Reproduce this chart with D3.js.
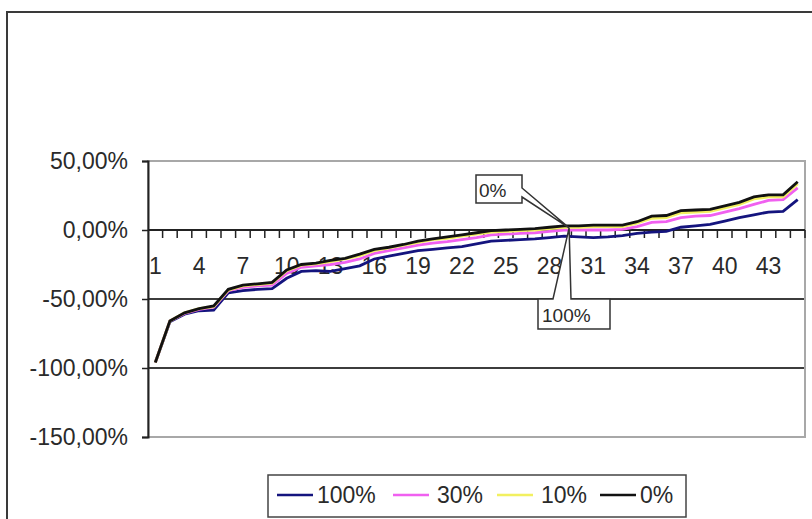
<!DOCTYPE html>
<html>
<head>
<meta charset="utf-8">
<script src="https://cdn.jsdelivr.net/npm/d3@7"></script>
<style>
  html, body { margin: 0; padding: 0; background: #fff; }
  svg { display: block; font-family: "Liberation Sans", Arial, sans-serif; }
</style>
</head>
<body>
<svg id="chart" width="812" height="519"></svg>
<script>
// Category positions 1..45
const categories = [1,2,3,4,5,6,7,8,9,10,11,12,13,14,15,16,17,18,19,20,21,22,23,24,25,
  26,27,28,29,30,31,32,33,34,35,36,37,38,39,40,41,42,43,44,45];

// Series values in percent
const s100 = [-96,-66.5,-61,-58.5,-58,-45.5,-44,-43,-42.5,-35,-30,-29.5,-30,-28,-26,-21,-19,-17,-15,-14,
  -13,-12,-10,-8,-7.5,-7,-6.5,-5.5,-4.5,-5,-5.5,-5,-4,-2.5,-1.5,-1,2,3,4,6.5,9,11,13,13.5,22];
const s30 = [-96,-66,-60.5,-57.5,-56,-44,-41.5,-40.5,-40,-31.5,-27,-26,-25,-23.5,-21,-17,-15,-13,-11,-9.5,
  -8.5,-7,-5.5,-3.5,-3,-2.5,-2,-1,0,0,0,0,0.5,2.5,5.5,6,9,10,10.5,13,15.5,18.5,21.5,22,30.5];
const s10 = [-96,-66,-60,-57,-55.5,-43.5,-40.5,-39.5,-38.5,-29.5,-25.5,-24.5,-23,-21,-18.5,-15,-13,-11,-9,-7,
  -6,-4.5,-3,-1.5,-1,-0.5,0,1,2,2,2.5,2.5,2.5,5,8.5,9,12.5,13,13.5,16,18.5,22.5,24,24,33.5];
const s0 = [-96,-66,-60,-57,-55,-43,-40,-39,-38,-29,-25,-24,-22,-20.5,-17.5,-14,-12.5,-10.5,-8,-6.5,
  -5,-3.5,-2,-0.5,0,0.5,1,2,3,3,3.5,3.5,3.5,6,10,10.5,14,14.5,15,17.5,20,24,25.5,25.5,35];

const seriesNames = ["100%", "30%", "10%", "0%"];
const seriesColors = ["#14147e", "#f060f0", "#f2f060", "#111111"];
const seriesData = [s100, s30, s10, s0];

const xTickLabels = ["1","4","7","10","13","16","19","22","25","28","31","34","37","40","43"];
const yTickValues = [50, 0, -50, -100, -150];
const yTickLabels = ["50,00%", "0,00%", "-50,00%", "-100,00%", "-150,00%"];

// Callout labels: text and the point they refer to (category, value)
const callouts = [
  { text: "0%", category: 29, value: 1.5 },
  { text: "100%", category: 29, value: 1.5 }
];

const svg = d3.select("#chart");
const W = 812, H = 519;
const plot = { left: 148, right: 805, top: 161, bottom: 437 };

const x = d3.scaleBand().domain(categories).range([plot.left, plot.right]).paddingInner(0).paddingOuter(0);
const y = d3.scaleLinear().domain([-150, 50]).range([plot.bottom, plot.top]);
const cx = c => x(c) + x.bandwidth() / 2;

// Outer chart frame
svg.append("rect")
  .attr("x", 7).attr("y", 12).attr("width", W + 20).attr("height", H + 20)
  .attr("fill", "#fff").attr("stroke", "#3a3a3a").attr("stroke-width", 2);

// Horizontal gridlines
svg.append("g").selectAll("line")
  .data([-50, -100])
  .join("line")
  .attr("x1", plot.left).attr("x2", plot.right)
  .attr("y1", d => y(d)).attr("y2", d => y(d))
  .attr("stroke", "#3c3c3c").attr("stroke-width", 2);

// Plot area border
svg.append("rect")
  .attr("x", plot.left).attr("y", plot.top)
  .attr("width", plot.right - plot.left).attr("height", plot.bottom - plot.top)
  .attr("fill", "none").attr("stroke", "#a8a8a8").attr("stroke-width", 2);

// Y axis
const yAxis = d3.axisLeft(y)
  .tickValues(yTickValues)
  .tickFormat((d, i) => yTickLabels[i])
  .tickSize(6)
  .tickPadding(14);
const gy = svg.append("g").attr("transform", `translate(${plot.left},0)`).call(yAxis);
gy.select(".domain").attr("stroke", "#222").attr("stroke-width", 2);
gy.selectAll(".tick line").attr("stroke", "#222").attr("stroke-width", 1.5);
gy.selectAll(".tick text").attr("fill", "#2a2a2a").style("font-size", "23px")
  .style("font-family", "'Liberation Sans', Arial, sans-serif");

// X axis line at zero with tick marks between categories
const gx = svg.append("g");
gx.append("line")
  .attr("x1", plot.left).attr("x2", plot.right)
  .attr("y1", y(0)).attr("y2", y(0))
  .attr("stroke", "#222").attr("stroke-width", 2);
const boundaries = categories.slice(1).map(c => x(c)).concat([plot.right]);
gx.selectAll("line.tick")
  .data(boundaries)
  .join("line")
  .attr("class", "tick")
  .attr("x1", d => d).attr("x2", d => d)
  .attr("y1", y(0)).attr("y2", y(0) + 8)
  .attr("stroke", "#222").attr("stroke-width", 1.5);

// X category labels (every third category)
const xAxis = d3.axisBottom(x)
  .tickValues(xTickLabels.map(Number))
  .tickFormat(d => String(d))
  .tickSize(0)
  .tickPadding(19);
const gxl = svg.append("g").attr("transform", `translate(0,${y(0) + 9})`).call(xAxis);
gxl.select(".domain").remove();
gxl.selectAll(".tick text").attr("fill", "#2a2a2a").style("font-size", "23px")
  .style("font-family", "'Liberation Sans', Arial, sans-serif");

// Series lines
const line = d3.line()
  .x((d, i) => cx(categories[i]))
  .y(d => y(d));
svg.append("g").selectAll("path")
  .data(seriesData)
  .join("path")
  .attr("d", d => line(d))
  .attr("fill", "none")
  .attr("stroke", (d, i) => seriesColors[i])
  .attr("stroke-width", 2.8)
  .attr("stroke-linejoin", "miter");

// Callouts
const tipX = cx(callouts[0].category) + 5;
const tipY = y(callouts[0].value);
const cg = svg.append("g");
cg.append("path")
  .attr("d", `M476,175 H522 V188 L${tipX},${tipY} L522,197 V203 H476 Z`)
  .attr("fill", "#fff").attr("stroke", "#333").attr("stroke-width", 1.5);
cg.append("text").attr("x", 479).attr("y", 197)
  .attr("fill", "#2a2a2a").style("font-size", "19px").text(callouts[0].text);

const tip2X = cx(callouts[1].category) + 5;
const tip2Y = y(callouts[1].value);
cg.append("path")
  .attr("d", `M538,299 H553 L${tip2X},${tip2Y} L571,299 H610 V329 H538 Z`)
  .attr("fill", "#fff").attr("stroke", "#333").attr("stroke-width", 1.5);
cg.append("text").attr("x", 542).attr("y", 322)
  .attr("fill", "#2a2a2a").style("font-size", "19px").text(callouts[1].text);

// Legend
const lg = svg.append("g");
lg.append("rect")
  .attr("x", 268).attr("y", 475).attr("width", 418).attr("height", 42)
  .attr("fill", "#fff").attr("stroke", "#444").attr("stroke-width", 1.5);
const legendX = [277, 393, 497, 600];
const legendItems = lg.selectAll("g.item")
  .data(seriesNames)
  .join("g")
  .attr("class", "item")
  .attr("transform", (d, i) => `translate(${legendX[i]},0)`);
legendItems.append("line")
  .attr("x1", 0).attr("x2", 36)
  .attr("y1", 495).attr("y2", 495)
  .attr("stroke", (d, i) => seriesColors[i]).attr("stroke-width", 2.6);
legendItems.append("text")
  .attr("x", (d, i) => i === 0 || i === 3 ? 40 : 44)
  .attr("y", 503)
  .attr("fill", "#2a2a2a").style("font-size", "23px")
  .text(d => d);
</script>
</body>
</html>
